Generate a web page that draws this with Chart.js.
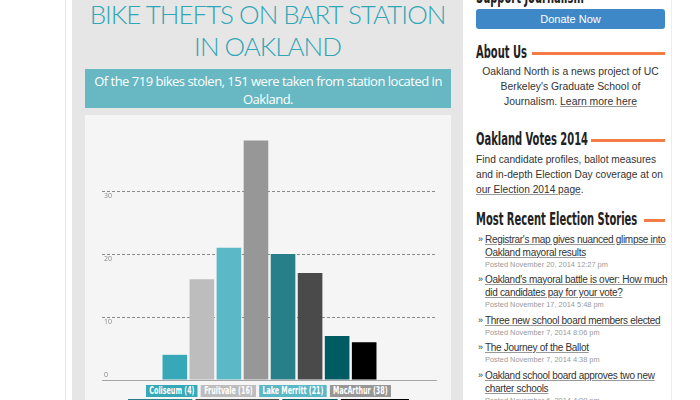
<!DOCTYPE html>
<html>
<head>
<meta charset="utf-8">
<script src="https://cdn.jsdelivr.net/npm/chart.js@4.4.1/dist/chart.umd.min.js"></script>
<style>
  html,body{margin:0;padding:0;}
  body{width:700px;height:400px;overflow:hidden;background:#fff;position:relative;font-family:"Liberation Sans",Arial,sans-serif;}
  .abs{position:absolute;}
  #vline1{left:65px;top:0;width:1px;height:400px;background:#e4e4e4;}
  #panel{left:72px;top:0;width:391px;height:400px;background:#e6e6e6;}
  #title{left:72px;top:-2px;width:391px;margin:0;text-align:center;font-family:Lato,"Open Sans",sans-serif;font-weight:300;font-size:26px;line-height:32px;color:#31a6b6;letter-spacing:-1px;}
  #sub{left:85px;top:69px;width:366px;height:39px;background:#67b8c3;color:#fff;text-align:center;font-family:"Open Sans",sans-serif;font-size:13px;line-height:18px;padding-top:3px;box-sizing:border-box;letter-spacing:-0.5px;white-space:nowrap;}
  #chartbox{left:85px;top:115px;width:366px;height:285px;background:#f5f5f5;}
  #chartwrap{left:85px;top:115px;width:366px;height:267px;}
  #legend{left:-16.5px;top:385px;width:569px;display:flex;flex-wrap:wrap;justify-content:center;column-gap:5px;transform:scaleX(0.643);transform-origin:center top;}
  #legend span{display:block;height:12px;line-height:12px;padding:0 5px;margin-bottom:2px;color:#fff;font-family:"Liberation Sans Narrow","DejaVu Sans Condensed",sans-serif;font-weight:bold;font-size:11px;white-space:nowrap;}
  #legend i{flex-basis:100%;height:0;}
  #vline2{left:671px;top:0;width:1px;height:400px;background:#eeeeee;}
  .hd{position:absolute;left:476px;margin:0;font-family:"Liberation Sans Narrow","DejaVu Sans Condensed",sans-serif;font-weight:bold;font-size:17px;line-height:20px;color:#222;white-space:nowrap;transform-origin:left center;transform:scaleX(0.65);}
  .oline{position:absolute;height:3px;background:#f47a46;}
  #donate{left:476px;top:9px;width:189px;height:20px;background:#3f88c8;border-radius:3px;color:#fff;text-align:center;font-size:11px;line-height:20px;}
  #about{left:476px;top:64px;width:189px;text-align:center;font-size:10.4px;line-height:15px;color:#333;margin:0;white-space:nowrap;}
  #votes{left:476px;top:152px;width:195px;font-size:10.2px;line-height:15px;color:#333;margin:0;white-space:nowrap;}
  a{color:#333;text-decoration:underline;text-decoration-color:#999;}
  #stories{left:476px;top:232.5px;width:195px;margin:0;padding:0;list-style:none;}
  #stories li{position:relative;padding-left:9px;margin-bottom:2.5px;}
  #stories li:before{content:"\00BB";position:absolute;left:2px;top:0;font-size:9px;line-height:13px;color:#333;}
  #stories .lk{font-size:10px;letter-spacing:-0.3px;line-height:13px;white-space:nowrap;}
  #stories .ps{font-size:7.4px;line-height:12px;color:#999;white-space:nowrap;}
</style>
</head>
<body>
<div id="vline1" class="abs"></div>
<div id="panel" class="abs"></div>
<h1 id="title" class="abs">BIKE THEFTS ON BART STATION<br>IN OAKLAND</h1>
<div id="sub" class="abs">Of the 719 bikes stolen, 151 were taken from station located in<br>Oakland.</div>
<div id="chartbox" class="abs"></div>
<div id="chartwrap" class="abs"><canvas id="c" width="366" height="267"></canvas></div>
<div id="legend" class="abs"></div>

<div id="vline2" class="abs"></div>
<div class="hd" style="top:-13px;">Support Journalism</div>
<div id="donate" class="abs">Donate Now</div>
<div class="hd" style="top:42px;">About Us</div>
<div class="oline" style="left:532px;top:52px;width:133px;"></div>
<p id="about" class="abs">Oakland North is a news project of UC<br>Berkeley's Graduate School of<br>Journalism. <a>Learn more here</a></p>
<div class="hd" style="top:129px;">Oakland Votes 2014</div>
<div class="oline" style="left:591px;top:139px;width:74px;"></div>
<p id="votes" class="abs">Find candidate profiles, ballot measures<br>and in-depth Election Day coverage at on<br><a>our Election 2014 page</a>.</p>
<div class="hd" style="top:209px;">Most Recent Election Stories</div>
<div class="oline" style="left:644px;top:219px;width:21px;"></div>
<ul id="stories" class="abs">
  <li><div class="lk"><a>Registrar's map gives nuanced glimpse into</a><br><a>Oakland mayoral results</a></div><div class="ps">Posted November 20, 2014 12:27 pm</div></li>
  <li><div class="lk"><a>Oakland's mayoral battle is over: How much</a><br><a>did candidates pay for your vote?</a></div><div class="ps">Posted November 17, 2014 5:48 pm</div></li>
  <li><div class="lk"><a>Three new school board members elected</a></div><div class="ps">Posted November 7, 2014 8:06 pm</div></li>
  <li><div class="lk"><a>The Journey of the Ballot</a></div><div class="ps">Posted November 7, 2014 4:38 pm</div></li>
  <li><div class="lk"><a>Oakland school board approves two new</a><br><a>charter schools</a></div><div class="ps">Posted November 6, 2014 4:09 pm</div></li>
</ul>

<script>
// ---- data ----
const stations = ['Coliseum', 'Fruitvale', 'Lake Merritt', 'MacArthur', '12th Street', '19th St. Oakland', 'Rockridge', 'West Oakland'];
const thefts = [4, 16, 21, 38, 20, 17, 7, 6];
const yTickValues = [0, 10, 20, 30];
const yMax = 40;
const yStep = 10;

// ---- styles ----
const barColors = ['#36a8b8', '#bdbdbd', '#5bb8c6', '#979797', '#267f89', '#4a4a4a', '#005b63', '#000000'];

// legend (HTML), four items per row
const legendEl = document.getElementById('legend');
stations.forEach((s, i) => {
  if (i === 4) legendEl.appendChild(document.createElement('i'));
  const sp = document.createElement('span');
  sp.textContent = s + ' (' + thefts[i] + ')';
  sp.style.background = barColors[i];
  legendEl.appendChild(sp);
});

const datasets = stations.map((s, i) => ({
  label: s,
  data: [thefts[i]],
  backgroundColor: barColors[i],
  borderWidth: 0,
  categoryPercentage: 0.646,
  barPercentage: 0.91
}));

new Chart(document.getElementById('c'), {
  type: 'bar',
  data: { labels: [''], datasets },
  options: {
    responsive: false,
    animation: false,
    layout: { padding: { left: 13, right: 14, top: 13, bottom: 2 } },
    plugins: { legend: { display: false }, tooltip: { enabled: false } },
    scales: {
      x: { display: false },
      y: {
        min: 0, max: yMax,
        afterFit: s => { s.paddingTop = 0; s.paddingBottom = 0; },
        ticks: {
          stepSize: yStep,
          mirror: true,
          padding: 2,
          color: '#888',
          font: { size: 7, family: 'Open Sans', lineHeight: 1.3 },
          callback: v => yTickValues.includes(v) ? (v === 0 ? [String(v), ''] : ['', String(v)]) : ''
        },
        grid: {
          drawTicks: false,
          lineWidth: 1,
          color: c => (c.tick && yTickValues.includes(c.tick.value)) ? (c.tick.value === 0 ? '#a5a5a5' : '#8a8a8a') : 'rgba(0,0,0,0)'
        },
        border: {
          display: false,
          dash: c => (c.tick && c.tick.value === 0) ? [] : [3, 2]
        }
      }
    }
  }
});
</script>
</body>
</html>
